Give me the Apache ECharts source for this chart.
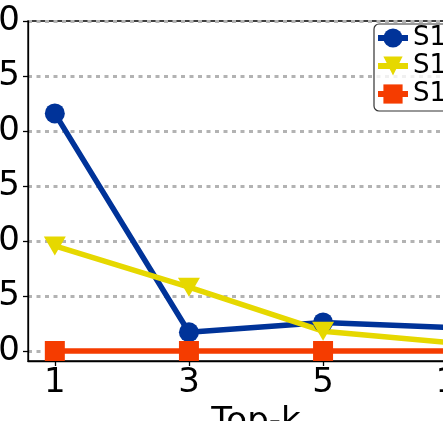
<!DOCTYPE html>
<html>
<head>
<meta charset="utf-8">
<script src="https://cdn.jsdelivr.net/npm/echarts@6/dist/echarts.min.js"></script>
<style>html,body{margin:0;padding:0;background:#fff;}#c{width:443px;height:421px;}</style>
</head>
<body>
<div id="c"></div>
<script>
const categories = ['1', '3', '5', '10'];
const seriesNames = ['S1-A', 'S1-B', 'S1-C'];
const s1Values = [2.16, 0.17, 0.26, 0.21];
const s2Values = [0.955, 0.58, 0.18, 0.07];
const s3Values = [0, 0, 0, 0];
const yTicks = [0, 0.5, 1.0, 1.5, 2.0, 2.5, 3.0];

const font = 'DejaVu Sans';
function pts(vals) { return vals.map((v, i) => [i, v]); }

const chart = echarts.init(document.getElementById('c'), null, {renderer: 'canvas'});
chart.setOption({
  animation: false,
  backgroundColor: '#fff',
  grid: {left: 28, right: -41, top: 21, bottom: 60, show: true, borderColor: '#000', borderWidth: 1.3,
    backgroundColor: 'transparent', containLabel: false, outerBoundsMode: 'none'},
  xAxis: {
    type: 'value', min: -0.2, max: 3.2,
    name: 'Top-k', nameLocation: 'middle', nameGap: 41,
    nameTextStyle: {fontFamily: font, fontSize: 34, color: '#000'},
    axisLine: {show: true, onZero: false, lineStyle: {color: '#000', width: 1.3}},
    axisTick: {show: true, length: 5, lineStyle: {color: '#000', width: 1.3}, customValues: [0, 1, 2, 3]},
    axisLabel: {fontFamily: font, fontSize: 34, color: '#000', margin: 5, customValues: [0, 1, 2, 3],
      formatter: v => categories[Math.round(v)]},
    splitLine: {show: false}
  },
  yAxis: {
    type: 'value', min: -0.0909, max: 3.0,
    axisLine: {show: true, onZero: false, lineStyle: {color: '#000', width: 1.3}},
    axisTick: {show: true, length: 5, lineStyle: {color: '#000', width: 1.3}, customValues: yTicks},
    axisLabel: {fontFamily: font, fontSize: 34, color: '#000', margin: 8, customValues: yTicks,
      formatter: v => v.toFixed(1)},
    splitLine: {show: true, lineStyle: {color: '#b3b3b3', width: 3, type: [4, 4.5]}}
  },
  legend: {
    left: 374, top: 24, orient: 'vertical',
    padding: [1, 40, 4, 1], itemGap: 2, itemWidth: 30, itemHeight: 24,
    backgroundColor: 'rgba(255,255,255,0.8)', borderColor: '#333', borderWidth: 1.2, borderRadius: 5,
    textStyle: {fontFamily: font, fontSize: 26, color: '#000'},
    lineStyle: {width: 6},
    data: seriesNames
  },
  series: [
    {name: seriesNames[0], type: 'line', data: pts(s1Values), symbol: 'circle', symbolSize: 20,
      lineStyle: {color: '#003399', width: 5.5}, itemStyle: {color: '#003399'}},
    {name: seriesNames[1], type: 'line', data: pts(s2Values), symbol: 'triangle', symbolRotate: 180, symbolSize: [22, 19],
      lineStyle: {color: '#e6d800', width: 5.5}, itemStyle: {color: '#e6d800'}},
    {name: seriesNames[2], type: 'line', data: pts(s3Values), symbol: 'rect', symbolSize: 20,
      lineStyle: {color: '#f53c00', width: 5.5}, itemStyle: {color: '#f53c00'}}
  ]
});
</script>
</body>
</html>
